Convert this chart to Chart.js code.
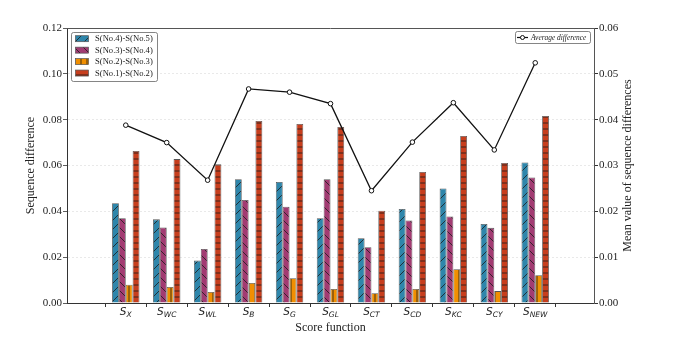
<!DOCTYPE html>
<html>
<head>
<meta charset="utf-8">
<script src="https://cdn.jsdelivr.net/npm/chart.js@4.4.0/dist/chart.umd.min.js"></script>
<style>
  body { margin: 0; background: #fff; }
  #wrap { width: 679px; height: 340px; }
</style>
</head>
<body>
<div id="wrap"><canvas id="chart" width="679" height="340"></canvas></div>
<script>
// score functions (subscripts of S)
const subs = ["X", "WC", "WL", "B", "G", "GL", "CT", "CD", "KC", "CY", "NEW"];

const diff45 = [0.0435, 0.0365, 0.0185, 0.054, 0.0528, 0.037, 0.0283, 0.041, 0.050, 0.0345, 0.0613];
const diff34 = [0.037, 0.033, 0.0236, 0.045, 0.042, 0.054, 0.0243, 0.036, 0.0378, 0.0328, 0.0548];
const diff23 = [0.008, 0.007, 0.0048, 0.0087, 0.0108, 0.0061, 0.0043, 0.0061, 0.0147, 0.0052, 0.0121];
const diff12 = [0.0663, 0.0628, 0.0605, 0.0794, 0.0781, 0.0768, 0.0403, 0.0572, 0.0729, 0.0611, 0.0816];
const avgDiff = [0.0388, 0.035, 0.0268, 0.0467, 0.046, 0.0435, 0.0245, 0.0351, 0.0437, 0.0334, 0.0524];

const leftTicks = [0, 0.02, 0.04, 0.06, 0.08, 0.10, 0.12];
const rightTicks = [0, 0.01, 0.02, 0.03, 0.04, 0.05, 0.06];

const serif = "'Liberation Serif', 'DejaVu Serif', serif";

// hatch patterns like matplotlib
function hatch(color, kind) {
  const size = (kind === "/" || kind === "\\") ? 9 : 6;
  const c = document.createElement("canvas");
  c.width = size; c.height = size;
  const g = c.getContext("2d");
  g.fillStyle = color;
  g.fillRect(0, 0, size, size);
  g.strokeStyle = "#1a1a1a";
  g.lineWidth = 0.8;
  g.beginPath();
  if (kind === "/") {
    g.moveTo(-1, size + 1); g.lineTo(size + 1, -1);
    g.moveTo(-1, 1); g.lineTo(1, -1);
    g.moveTo(size - 1, size + 1); g.lineTo(size + 1, size - 1);
  } else if (kind === "\\") {
    g.moveTo(-1, -1); g.lineTo(size + 1, size + 1);
    g.moveTo(size - 1, -1); g.lineTo(size + 1, 1);
    g.moveTo(-1, size - 1); g.lineTo(1, size + 1);
  } else if (kind === "|") {
    g.moveTo(size / 2, 0); g.lineTo(size / 2, size);
  } else {
    g.moveTo(0, size / 2); g.lineTo(size, size / 2);
  }
  g.stroke();
  return g.createPattern(c, "repeat");
}

const ctx = document.getElementById("chart").getContext("2d");

const barSets = [
  { label: "S(No.4)-S(No.5)", values: diff45, color: "#2e86ab", hatch: "/" },
  { label: "S(No.3)-S(No.4)", values: diff34, color: "#a23b72", hatch: "\\" },
  { label: "S(No.2)-S(No.3)", values: diff23, color: "#f18f01", hatch: "|" },
  { label: "S(No.1)-S(No.2)", values: diff12, color: "#c73e1d", hatch: "-" }
];

const datasets = barSets.map(s => ({
  type: "bar",
  label: s.label,
  data: s.values.map((v, i) => ({ x: i, y: v })),
  backgroundColor: hatch(s.color, s.hatch),
  borderColor: "#555",
  borderWidth: 0.8,
  categoryPercentage: 0.67,
  barPercentage: 1.0,
  yAxisID: "y",
  order: 1
}));

datasets.push({
  type: "line",
  label: "Average difference",
  data: avgDiff.map((v, i) => ({ x: i, y: v })),
  borderColor: "#111",
  borderWidth: 1.3,
  pointRadius: 2.3,
  pointBackgroundColor: "#fff",
  pointBorderColor: "#111",
  pointBorderWidth: 1,
  tension: 0,
  yAxisID: "y1",
  order: 0
});

// titles, x labels with subscripts, frame and legends
const decor = {
  id: "decor",
  afterDraw(chart) {
    const g = chart.ctx;
    const a = chart.chartArea;
    const xs = chart.scales.x;
    g.save();

    // top spine
    g.strokeStyle = "#555";
    g.lineWidth = 1;
    g.beginPath();
    g.moveTo(a.left, a.top + 0.5);
    g.lineTo(a.right, a.top + 0.5);
    g.stroke();

    // x tick labels: S with subscript
    g.fillStyle = "#222";
    g.textBaseline = "alphabetic";
    subs.forEach((sub, i) => {
      const px = xs.getPixelForValue(i);
      g.font = "italic 10.5px 'DejaVu Sans', sans-serif";
      const wS = g.measureText("S").width;
      g.font = "italic 7.5px 'DejaVu Sans', sans-serif";
      const wSub = g.measureText(sub).width;
      const x0 = px - (wS + wSub) / 2;
      g.font = "italic 10.5px 'DejaVu Sans', sans-serif";
      g.textAlign = "left";
      g.fillText("S", x0, 314.5);
      g.font = "italic 7.5px 'DejaVu Sans', sans-serif";
      g.fillText(sub, x0 + wS, 317);
    });

    // axis titles
    g.font = "12px " + serif;
    g.textAlign = "center";
    g.textBaseline = "middle";
    g.fillText("Score function", (a.left + a.right) / 2, 328);
    const midY = (a.top + a.bottom) / 2;
    g.save();
    g.translate(31, midY);
    g.rotate(-Math.PI / 2);
    g.fillText("Sequence difference", 0, 0);
    g.restore();
    g.save();
    g.translate(628, midY);
    g.rotate(-Math.PI / 2);
    g.fillText("Mean value of sequence differences", 0, 0);
    g.restore();

    // bar legend (top left)
    const bx = 71, by = 32, bw = 86, bh = 49;
    g.fillStyle = "rgba(255,255,255,0.9)";
    g.strokeStyle = "#666";
    g.lineWidth = 0.8;
    g.beginPath();
    g.roundRect(bx + 0.5, by + 0.5, bw, bh, 2);
    g.fill();
    g.stroke();
    g.font = "8.6px " + serif;
    g.textAlign = "left";
    g.textBaseline = "middle";
    barSets.forEach((s, i) => {
      const ry = 38.7 + i * 11.45;
      g.fillStyle = chart.data.datasets[i].backgroundColor;
      g.fillRect(75.5, ry - 3, 13, 6);
      g.strokeStyle = "#555";
      g.lineWidth = 0.7;
      g.strokeRect(75.5, ry - 3, 13, 6);
      g.fillStyle = "#222";
      g.fillText(s.label, 95, ry + 0.5);
    });

    // line legend (top right)
    const lx = 515, ly = 31, lw = 75, lh = 12;
    g.fillStyle = "rgba(255,255,255,0.9)";
    g.strokeStyle = "#666";
    g.lineWidth = 0.8;
    g.beginPath();
    g.roundRect(lx + 0.5, ly + 0.5, lw, lh, 2);
    g.fill();
    g.stroke();
    const my = ly + lh / 2 + 0.5;
    g.strokeStyle = "#111";
    g.lineWidth = 1.2;
    g.beginPath();
    g.moveTo(517, my);
    g.lineTo(528, my);
    g.stroke();
    g.fillStyle = "#fff";
    g.lineWidth = 1;
    g.beginPath();
    g.arc(522.5, my, 2, 0, Math.PI * 2);
    g.fill();
    g.stroke();
    g.fillStyle = "#222";
    g.font = "italic 7.4px " + serif;
    g.fillText("Average difference", 531, my + 0.3);

    g.restore();
  }
};

new Chart(ctx, {
  type: "bar",
  data: { datasets: datasets },
  plugins: [decor],
  options: {
    responsive: false,
    animation: false,
    devicePixelRatio: 1,
    layout: { padding: { top: 28, left: 0, right: 0, bottom: 0 } },
    plugins: {
      legend: { display: false },
      tooltip: { enabled: false }
    },
    scales: {
      x: {
        type: "linear",
        min: -0.85,
        max: 10.85,
        afterBuildTicks: s => { s.ticks = subs.map((_, i) => ({ value: i })); },
        afterFit: s => { s.height = 37; },
        ticks: { callback: () => "", font: { size: 1 } },
        grid: { drawOnChartArea: false, drawTicks: true, tickLength: 4, tickColor: "#333" },
        border: { color: "#333", width: 1 }
      },
      y: {
        position: "left",
        min: 0,
        max: 0.12,
        afterBuildTicks: s => { s.ticks = leftTicks.map(v => ({ value: v })); },
        afterFit: s => { s.width = 67; },
        ticks: {
          padding: 1,
          color: "#222",
          font: { family: serif, size: 11 },
          callback: v => v.toFixed(2)
        },
        grid: { color: "#e4e4e4", lineWidth: 0.8, tickLength: 4, tickColor: "#333" },
        border: { color: "#333", width: 1, dash: [2, 2] }
      },
      y1: {
        position: "right",
        min: 0,
        max: 0.06,
        afterBuildTicks: s => { s.ticks = rightTicks.map(v => ({ value: v })); },
        afterFit: s => { s.width = 85; },
        ticks: {
          padding: 1,
          color: "#222",
          font: { family: serif, size: 11 },
          callback: v => v.toFixed(2)
        },
        grid: { drawOnChartArea: false, tickLength: 4, tickColor: "#333" },
        border: { color: "#555", width: 1 }
      }
    }
  }
});
</script>
</body>
</html>
